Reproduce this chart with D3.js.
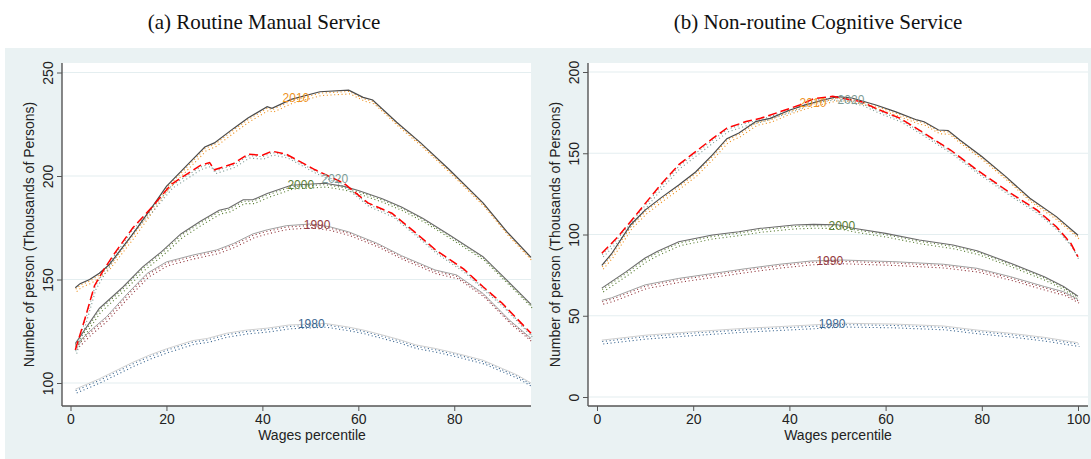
<!DOCTYPE html>
<html>
<head>
<meta charset="utf-8">
<script src="https://cdn.jsdelivr.net/npm/d3@7"></script>
<style>
  body { margin: 0; background: #fff; }
  svg text { font-family: "Liberation Sans", Arial, sans-serif; }
</style>
</head>
<body>
<svg id="chart" width="1091" height="459"></svg>
<script>
// Census years shown in both panels
const years = ["1980", "1990", "2000", "2010", "2020"];

// (a) Routine manual service: [wage percentile, thousands of persons]
const manual1980 = [[1,97],[6,102],[13,110],[16.5,113.5],[20,116.5],[25.5,120.5],[28.5,121.5],[32.5,124],[36.5,125.5],[41,126.5],[45.5,128],[53,128.8],[58,127],[61,125.6],[65,123.2],[68.5,121],[72,118.4],[76,116.7],[80.5,114.3],[86,111],[90,107],[93,104],[96,100]];
const manual1990 = [[1,118],[4,125],[7.5,132],[12,143.5],[16,153],[20,158.5],[25.5,161.8],[30.5,164.3],[34,167.4],[38,172],[41,174],[45,176],[50,176.8],[54,175.5],[58,173],[64,167.4],[69,161.5],[76,154.6],[80.5,152.2],[86,143.3],[91.5,130.4],[96,121.6]];
const manual2000 = [[1,119],[6,136],[11,146.5],[15,156],[19,163.5],[23,172],[27,178],[31,183.5],[33,184.5],[36,188.5],[38,188.5],[41,191.5],[46,195.5],[53,196.5],[57,195],[60,193],[65,189],[69,185],[73.5,179.5],[79,171.5],[86,161],[93,145],[96,138]];
const manual2010 = [[1,146],[2,148],[4,150],[6,153],[8,157],[10,163],[13,172],[17,185],[20,195],[24,204.5],[28,214],[30,216],[34,223],[37,228],[41,233.5],[42,232.7],[46,237],[52,240.7],[58,241.5],[61,238],[63,236.7],[68,226],[73,216],[79,203],[86,187],[91,173],[96,160.7]];
const manual2020 = [[1,116],[3,131],[5,147],[7,155],[9,162],[13,175],[17,185],[21,196],[27,205],[29,206.5],[30,203],[34,206],[37,210.5],[40,210],[42,212],[45,210.5],[51,203],[57,196.5],[62,187],[67,182],[72,172.5],[76,164.5],[82,155],[86,146.5],[90,138.5],[96,124]];

// (b) Non-routine cognitive service: [wage percentile, thousands of persons]
const cognitive1980 = [[1,35],[10,38],[20,40.2],[31,42.3],[44.5,44.3],[51,45.4],[61.5,44.9],[72,43.7],[79,41.2],[86,39.2],[93,36.7],[100,33.4]];
const cognitive1990 = [[1,59.5],[3,61],[6.5,65],[10,69],[13.5,71],[17,73],[24,76],[31,79],[38,81.7],[44.5,83.7],[51,84.3],[61.5,83.3],[72,81.7],[79,79.2],[86,74],[93,68],[97,64.8],[100,60]];
const cognitive2000 = [[1,67],[6,77],[10,85.5],[12.5,89.5],[17,95.5],[24,99.7],[29.5,101.7],[34,103.8],[41,105.8],[45,106.2],[50,106],[53,104],[60,100.7],[67,96.6],[74,93.5],[79,90],[86,82.3],[93,74],[97,68],[100,62]];
const cognitive2010 = [[1,81],[3,88],[7,106],[10,115],[13.5,123],[17,130.5],[20.5,138.5],[24,149],[27,159],[29.5,162.5],[33,169.5],[36,171.5],[40,176.5],[43,179.5],[46,182],[50,184.8],[53,184],[58,179.7],[62,175.6],[66.5,170.5],[68,169.4],[71,164.3],[73,164],[75.5,158],[80,148],[85,135.6],[90,122.3],[95.5,111],[100,99.5]];
const cognitive2020 = [[1,88.5],[4,97.5],[7,108],[10,119],[13.5,131.5],[17,143],[20.5,151],[24,159],[27,165.5],[31,169.5],[34,171.5],[38,175.5],[42,179.5],[45,183.5],[49,185],[55,181.7],[58,177.5],[63,171.5],[67,164.3],[73.5,152],[79,139.7],[86,125.4],[91.5,115],[95.5,104.8],[98.5,94.6],[100,86.3]];

// Percentile at which each year's label sits on its curve
const manualLabelPct = [50.2, 51.4, 48, 47, 55.1];
const cognitiveLabelPct = [48.9, 48.4, 50.9, 44.9, 52.8];

// Axis ticks
const manualTicksX = [0, 20, 40, 60, 80];
const manualTicksY = [100, 150, 200, 250];
const cognitiveTicksX = [0, 20, 40, 60, 80, 100];
const cognitiveTicksY = [0, 50, 100, 150, 200];

const panelTitles = ["(a) Routine Manual Service", "(b) Non-routine Cognitive Service"];
const xTitle = "Wages percentile";
const yTitle = "Number of person (Thousands of Persons)";

// Per-year styling: dotted data colour, fitted line colour / dash
const dotColors  = ["#3d6892", "#953c42", "#5b7f36", "#ee9322", "#7e9c96"];
const lineColors = ["#cfcfcf", "#a0a0a0", "#6a6a6a", "#4a4a4a", "#ff0000"];
const lineDash   = [null, null, null, null, "9,4"];
const lineWidth  = [1, 1, 1.1, 1.2, 1.5];

const svg = d3.select("#chart");

function interp(series, p) {
  for (let i = 1; i < series.length; i++) {
    const [p0, v0] = series[i - 1], [p1, v1] = series[i];
    if (p >= p0 && p <= p1) return v0 + (v1 - v0) * (p - p0) / (p1 - p0);
  }
  return series[series.length - 1][1];
}

function drawPanel(cfg) {
  const g = svg.append("g");
  // graph region background
  g.append("rect").attr("x", cfg.bg[0]).attr("y", cfg.bg[1])
    .attr("width", cfg.bg[2]).attr("height", cfg.bg[3]).attr("fill", "#eaf2f3");
  // plot region
  g.append("rect").attr("x", cfg.plot[0]).attr("y", cfg.plot[1])
    .attr("width", cfg.plot[2] - cfg.plot[0]).attr("height", cfg.plot[3] - cfg.plot[1])
    .attr("fill", "#fff");

  const x = d3.scaleLinear().domain(cfg.xDomain).range(cfg.xRange);
  const y = d3.scaleLinear().domain(cfg.yDomain).range(cfg.yRange);

  // horizontal gridlines
  g.selectAll(".grid").data(cfg.ticksY).join("line")
    .attr("x1", cfg.plot[0]).attr("x2", cfg.plot[2])
    .attr("y1", d => y(d)).attr("y2", d => y(d))
    .attr("stroke", "#e4eef0").attr("stroke-width", 1.2);

  const line = d3.line().x(d => x(d[0])).y(d => y(d[1]));

  cfg.series.forEach((s, i) => {
    // observed values as a doubled dotted trace
    [[0.4, 1.4], [1.4, 3.8]].forEach(([dx, dy]) => {
      g.append("path").datum(s).attr("d", line)
        .attr("transform", `translate(${dx},${dy})`)
        .attr("fill", "none").attr("stroke", dotColors[i])
        .attr("stroke-width", 1.1).attr("stroke-dasharray", "1.1,2.6");
    });
  });
  cfg.series.forEach((s, i) => {
    // fitted line
    g.append("path").datum(s).attr("d", line)
      .attr("fill", "none").attr("stroke", lineColors[i])
      .attr("stroke-width", lineWidth[i])
      .attr("stroke-dasharray", lineDash[i]);
  });
  // year labels on the curves
  cfg.series.forEach((s, i) => {
    const p = cfg.labelPct[i];
    g.append("text").attr("x", x(p)).attr("y", y(interp(s, p)))
      .attr("dy", "0.36em").attr("text-anchor", "middle")
      .attr("font-size", 12).attr("fill", dotColors[i]).text(years[i]);
  });

  // axes
  const axisColor = "#555";
  g.append("line").attr("x1", cfg.plot[0]).attr("x2", cfg.plot[0])
    .attr("y1", cfg.plot[1]).attr("y2", cfg.plot[3]).attr("stroke", axisColor).attr("stroke-width", 1.4);
  g.append("line").attr("x1", cfg.plot[0]).attr("x2", cfg.plot[2])
    .attr("y1", cfg.plot[3]).attr("y2", cfg.plot[3]).attr("stroke", axisColor).attr("stroke-width", 1.4);

  const yAxis = g.append("g").attr("transform", `translate(${cfg.plot[0]},0)`)
    .call(d3.axisLeft(y).tickValues(cfg.ticksY).tickSize(5).tickSizeOuter(0));
  yAxis.select(".domain").remove();
  yAxis.selectAll("line").attr("stroke", axisColor);
  yAxis.selectAll("text").attr("transform", "rotate(-90)")
    .attr("x", 0).attr("y", -9).attr("dy", "0").attr("text-anchor", "middle")
    .attr("font-size", 14).attr("fill", "#222").style("font-family", "Liberation Sans, Arial, sans-serif");

  const xAxis = g.append("g").attr("transform", `translate(0,${cfg.plot[3]})`)
    .call(d3.axisBottom(x).tickValues(cfg.ticksX).tickSize(5).tickSizeOuter(0));
  xAxis.select(".domain").remove();
  xAxis.selectAll("line").attr("stroke", axisColor);
  xAxis.selectAll("text").attr("y", 8).attr("dy", "0.71em")
    .attr("font-size", 14).attr("fill", "#222").style("font-family", "Liberation Sans, Arial, sans-serif");

  g.append("text").attr("x", cfg.xTitleX).attr("y", cfg.plot[3] + 34)
    .attr("text-anchor", "middle").attr("font-size", 14).attr("fill", "#222").text(xTitle);
  g.append("text")
    .attr("transform", `translate(${cfg.plot[0] - 28},${(cfg.plot[1] + cfg.plot[3]) / 2}) rotate(-90)`)
    .attr("text-anchor", "middle").attr("font-size", 14).attr("fill", "#222").text(yTitle);

  // panel caption
  svg.append("text").attr("x", cfg.titleX).attr("y", 29)
    .attr("text-anchor", "middle").attr("font-size", 21)
    .style("font-family", "'Liberation Serif', 'DejaVu Serif', serif")
    .attr("fill", "#111").text(cfg.title);
}

drawPanel({
  title: panelTitles[0], titleX: 264,
  bg: [5, 48, 541, 411], plot: [62, 63, 531, 406],
  xDomain: [0, 96], xRange: [70.5, 531],
  yDomain: [100, 250], yRange: [383, 72.5],
  ticksX: manualTicksX, ticksY: manualTicksY,
  series: [manual1980, manual1990, manual2000, manual2010, manual2020],
  labelPct: manualLabelPct, xTitleX: 312
});

drawPanel({
  title: panelTitles[1], titleX: 818,
  bg: [546, 48, 545, 411], plot: [588, 63, 1088, 406],
  xDomain: [0, 100], xRange: [597, 1078],
  yDomain: [0, 200], yRange: [397, 72],
  ticksX: cognitiveTicksX, ticksY: cognitiveTicksY,
  series: [cognitive1980, cognitive1990, cognitive2000, cognitive2010, cognitive2020],
  labelPct: cognitiveLabelPct, xTitleX: 838
});
</script>
</body>
</html>
